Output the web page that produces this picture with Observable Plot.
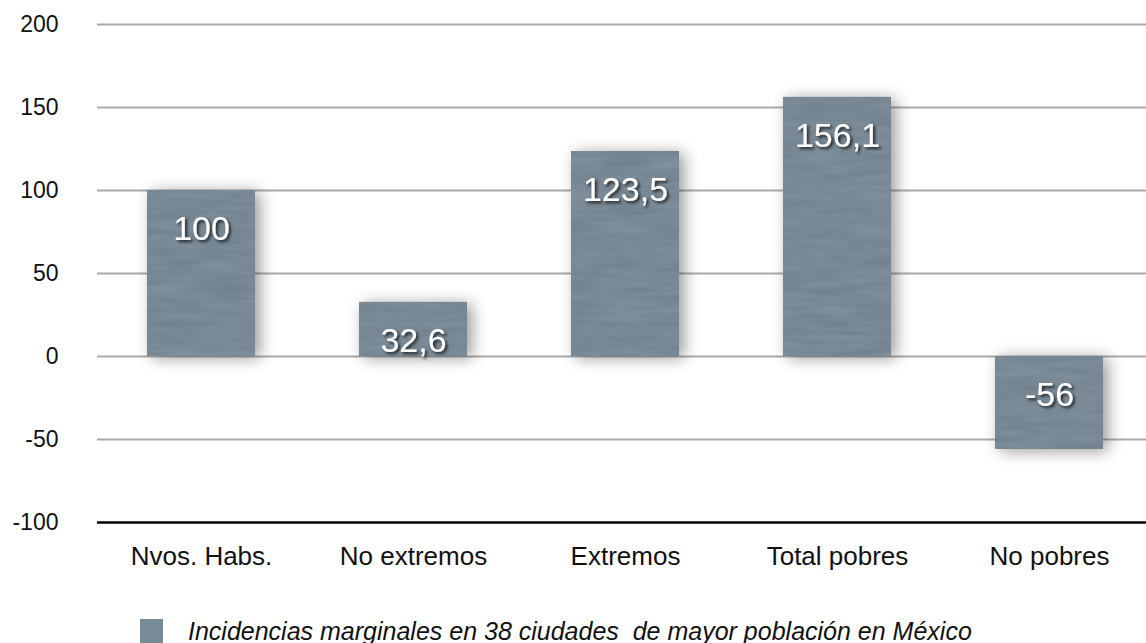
<!DOCTYPE html>
<html>
<head>
<meta charset="utf-8">
<script src="https://cdn.jsdelivr.net/npm/d3@7"></script>
<script src="https://cdn.jsdelivr.net/npm/@observablehq/plot@0.6"></script>
<style>
  html, body { margin: 0; padding: 0; background: #fff; overflow: hidden; }
  body { font-family: "Liberation Sans", Arial, Helvetica, sans-serif; width: 1146px; }
  #legend { display: flex; align-items: center; margin-top: 37px; padding-left: 140px; }
  #legend .sw { width: 23px; height: 25px; background: #778a98; margin-right: 25px; flex: none; }
  #legend .lbl { font-style: italic; font-size: 25px; color: #111; white-space: pre; }
</style>
</head>
<body>
<div id="chart"></div>
<div id="legend"><span class="sw"></span><span class="lbl">Incidencias marginales en 38 ciudades  de mayor población en México</span></div>
<script>
const categories = ["Nvos. Habs.", "No extremos", "Extremos", "Total pobres", "No pobres"];
const values = [100, 32.6, 123.5, 156.1, -56];
const yTicks = [-100, -50, 0, 50, 100, 150, 200];
const seriesName = "Incidencias marginales en 38 ciudades  de mayor población en México";

const data = categories.map((c, i) => ({cat: c, value: values[i]}));
const fmt = v => String(v).replace(".", ",");
const barColor = "#778a98";

const chart = Plot.plot({
  width: 1146,
  height: 580,
  marginTop: 24,
  marginBottom: 58,
  marginLeft: 97,
  marginRight: 0,
  style: {fontFamily: "'Liberation Sans', Arial, Helvetica, sans-serif", background: "white", color: "#111"},
  x: {domain: categories, range: [93, 1157], paddingInner: 0.49, paddingOuter: 0.245, label: null, tickSize: 0, tickPadding: 24},
  y: {domain: [-100, 200], ticks: yTicks, label: null, tickSize: 0, tickPadding: 39, tickFormat: d => String(d)},
  marks: [
    Plot.ruleY(yTicks.filter(t => t > -100), {stroke: "#aaaaaa", strokeWidth: 2}),
    Plot.barY(data, {x: "cat", y: "value", fill: barColor}),
    Plot.ruleY([-100], {stroke: "#000", strokeWidth: 2.5}),
    Plot.text(data, {x: "cat", y: d => Math.max(d.value, 0), dy: 39, text: d => fmt(d.value), fill: "white", fontSize: 34})
  ]
});

const xg = chart.querySelector('g[aria-label="x-axis tick label"]') || chart.querySelector('g[aria-label="x-axis"]');
if (xg) { xg.setAttribute("font-size", "26px"); xg.querySelectorAll("text").forEach(t => t.setAttribute("font-size", "26px")); }
const yg = chart.querySelector('g[aria-label="y-axis tick label"]') || chart.querySelector('g[aria-label="y-axis"]');
if (yg) { yg.setAttribute("font-size", "23px"); yg.querySelectorAll("text").forEach(t => t.setAttribute("font-size", "23px")); }

const ns = "http://www.w3.org/2000/svg";
const defs = document.createElementNS(ns, "defs");
defs.innerHTML = `
<filter id="barfx" x="-30%" y="-30%" width="160%" height="160%" color-interpolation-filters="sRGB">
  <feGaussianBlur in="SourceAlpha" stdDeviation="8" result="blur"/>
  <feOffset in="blur" dx="5" dy="2" result="off"/>
  <feComponentTransfer in="off" result="shadow"><feFuncA type="linear" slope="0.4"/></feComponentTransfer>
  <feTurbulence type="fractalNoise" baseFrequency="0.02 0.14" numOctaves="3" seed="5" result="noise"/>
  <feColorMatrix in="noise" type="matrix" values="0.33 0.33 0.33 0 0  0.33 0.33 0.33 0 0  0.33 0.33 0.33 0 0  0 0 0 0 0.15" result="gn"/>
  <feComposite in="gn" in2="SourceGraphic" operator="in" result="tex"/>
  <feMerge><feMergeNode in="shadow"/><feMergeNode in="SourceGraphic"/><feMergeNode in="tex"/></feMerge>
</filter>
<filter id="txtfx" x="-20%" y="-30%" width="140%" height="160%">
  <feGaussianBlur in="SourceAlpha" stdDeviation="1.6" result="b"/>
  <feOffset in="b" dx="1.5" dy="2" result="o"/>
  <feComponentTransfer in="o" result="s"><feFuncA type="linear" slope="0.75"/></feComponentTransfer>
  <feMerge><feMergeNode in="s"/><feMergeNode in="SourceGraphic"/></feMerge>
</filter>`;
chart.insertBefore(defs, chart.firstChild);
const barG = chart.querySelector('g[aria-label="bar"]');
if (barG) barG.setAttribute("filter", "url(#barfx)");
const txtG = chart.querySelector('g[aria-label="text"]');
if (txtG) txtG.setAttribute("filter", "url(#txtfx)");

document.getElementById("chart").appendChild(chart);
</script>
</body>
</html>
